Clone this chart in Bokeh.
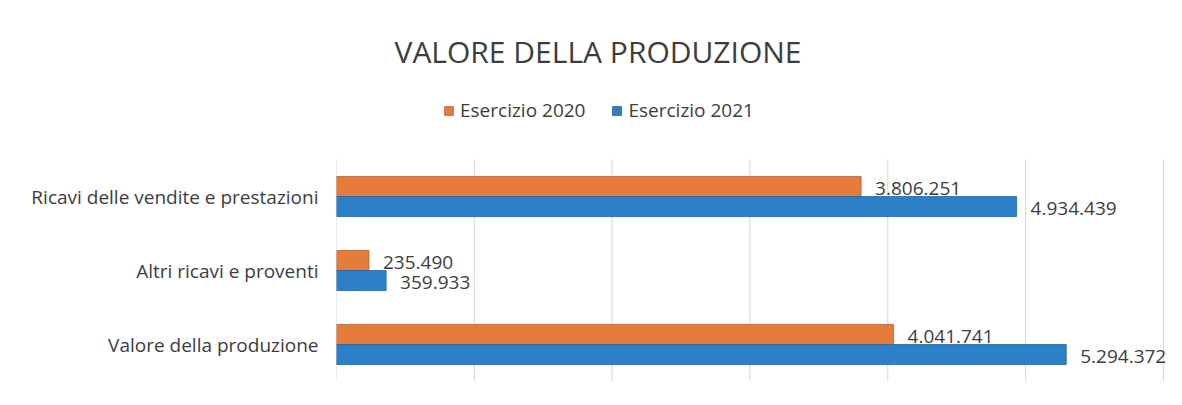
from bokeh.plotting import figure
from bokeh.models import (Range1d, ColumnDataSource, LabelSet, Legend,
                          LegendItem, FixedTicker, Label)
from bokeh.core.properties import value
from bokeh.embed import file_html
from bokeh.resources import INLINE

# ---- data ----
categories = ["Ricavi delle vendite e prestazioni", "Altri ricavi e proventi", "Valore della produzione"]
esercizio_2020 = [3806251, 235490, 4041741]
esercizio_2021 = [4934439, 359933, 5294372]
grid_ticks = [0, 1000000, 2000000, 3000000, 4000000, 5000000, 6000000]
series_names = ["Esercizio 2020", "Esercizio 2021"]
chart_title = "VALORE DELLA PRODUZIONE"


def fmt(v):
    return f"{v:,}".replace(",", ".")


n = len(categories)
# category slots: first category at the top
ypos = [n - i - 0.5 for i in range(n)]
OFF = 0.136
BAR_H = 0.27

src = ColumnDataSource(dict(
    cat=categories,
    y20=[y + OFF for y in ypos],
    y21=[y - OFF for y in ypos],
    v20=esercizio_2020,
    v21=esercizio_2021,
    l20=[fmt(v) for v in esercizio_2020],
    l21=[fmt(v) for v in esercizio_2021],
))
grid_src = ColumnDataSource(dict(x=grid_ticks, y0=[0] * len(grid_ticks), y1=[n] * len(grid_ticks)))

FONT = "Open Sans"
TXT = "#3d3d3d"
ORANGE = "#E67C3C"
BLUE = "#2C80C8"

p = figure(width=1166, height=389,
           y_range=Range1d(0, 5.149),
           x_range=Range1d(0, 6022000),
           output_backend="svg", toolbar_location=None,
           min_border_left=336, min_border_right=0,
           min_border_bottom=8, min_border_top=0)
p.title = None

p.outline_line_color = None
p.xaxis.visible = False
p.xgrid.grid_line_color = None
p.ygrid.grid_line_color = None

yax = p.yaxis[0]
yax.ticker = FixedTicker(ticks=ypos)
yax.major_label_overrides = {y: c for y, c in zip(ypos, categories)}
yax.axis_line_color = None
yax.major_tick_line_color = None
yax.minor_tick_line_color = None
yax.major_tick_out = 0
yax.major_tick_in = 0
yax.major_label_standoff = 18
yax.major_label_text_font = FONT
yax.major_label_text_font_size = "19px"
yax.major_label_text_color = TXT

# vertical gridlines spanning the category area only
p.segment(x0="x", x1="x", y0="y0", y1="y1", source=grid_src,
          line_color="#d6d6d6", line_width=1)

r20 = p.hbar(y="y20", right="v20", left=0, height=BAR_H,
             source=src, fill_color=ORANGE, line_color="#b8602c", line_width=0.8)
r21 = p.hbar(y="y21", right="v21", left=0, height=BAR_H,
             source=src, fill_color=BLUE, line_color="#1f5f99", line_width=0.8)

for fld, lab, yf in (("v20", "l20", "y20"), ("v21", "l21", "y21")):
    ls = LabelSet(x=fld, y=yf, text=lab, source=src,
                  x_offset=14, y_offset=-2, text_baseline="middle",
                  text_font=value(FONT), text_font_size=value("19px"), text_color=value(TXT))
    p.add_layout(ls)

# title above the category area (screen units, relative to the frame)
p.add_layout(Label(x=261.5, y=330, x_units="screen", y_units="screen", text=chart_title,
                   text_align="center", text_baseline="middle",
                   text_font=FONT, text_font_size="30px", text_color=TXT))

legend = Legend(items=[LegendItem(label=series_names[0], renderers=[r20]),
                       LegendItem(label=series_names[1], renderers=[r21])],
                orientation="horizontal", location=(107, 258),
                label_text_font=FONT, label_text_font_size="19px", label_text_color=TXT,
                glyph_width=11, glyph_height=11, label_standoff=6, spacing=26,
                padding=0, margin=0, border_line_color=None, background_fill_alpha=0)
p.add_layout(legend)

open("out.html", "w").write(file_html(p, INLINE))
